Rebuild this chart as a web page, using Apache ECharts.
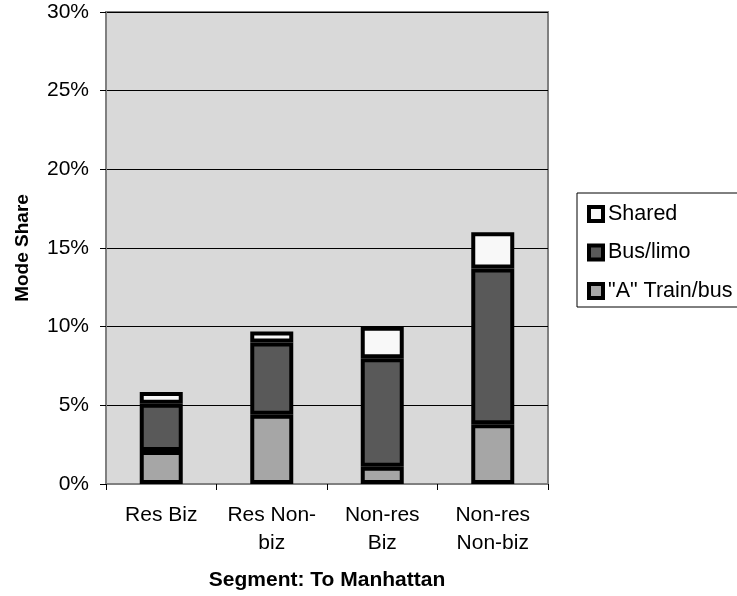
<!DOCTYPE html>
<html>
<head>
<meta charset="utf-8">
<script src="https://cdn.jsdelivr.net/npm/echarts@6/dist/echarts.min.js"></script>
<style>
  html, body { margin: 0; padding: 0; background: #fff; }
  #chart { width: 737px; height: 596px; }
</style>
</head>
<body>
<div id="chart"></div>
<script>
// Segments along the x axis
const categories = ['Res Biz', 'Res Non-\nbiz', 'Non-res\nBiz', 'Non-res\nNon-biz'];

// Mode share (%) by segment, stacked bottom to top
const trainBus = [2.1, 4.4, 1.1, 3.8];
const busLimo  = [3.0, 4.6, 6.9, 9.9];
const shared   = [0.75, 0.7, 2.0, 2.3];

const yTicks = { min: 0, max: 30, interval: 5 };

const FONT = 'Liberation Sans, Arial, sans-serif';

function barSeries(name, data, color) {
  return {
    name: name,
    type: 'bar',
    stack: 'share',
    data: data,
    barWidth: 43,
    itemStyle: { color: color, borderColor: '#000', borderWidth: 4 },
    emphasis: { disabled: true }
  };
}

const chart = echarts.init(document.getElementById('chart'), null, { renderer: 'canvas' });
chart.setOption({
  animation: false,
  backgroundColor: '#fff',
  textStyle: { fontFamily: FONT },
  grid: {
    left: 106, right: 189, top: 12, bottom: 112,
    show: true,
    backgroundColor: '#d9d9d9',
    borderColor: '#808080',
    borderWidth: 2
  },
  legend: {
    orient: 'vertical',
    left: 577,
    top: 193,
    data: ['Shared', 'Bus/limo', '"A" Train/bus'],
    icon: 'rect',
    itemWidth: 14,
    itemHeight: 14,
    itemGap: 16.5,
    padding: [10, 90, 5, 10],
    backgroundColor: '#fff',
    borderColor: '#000',
    borderWidth: 1,
    borderRadius: 0,
    itemStyle: { borderColor: '#000', borderWidth: 4 },
    textStyle: { fontFamily: FONT, fontSize: 21.5, lineHeight: 21, color: '#000' }
  },
  xAxis: {
    type: 'category',
    data: categories,
    name: 'Segment: To Manhattan',
    nameLocation: 'middle',
    nameGap: 86,
    nameTextStyle: { fontFamily: FONT, fontSize: 21, fontWeight: 'bold', color: '#000' },
    axisLine: { show: true, lineStyle: { color: '#808080', width: 2 } },
    axisTick: { show: true, length: 6, lineStyle: { color: '#000', width: 1 } },
    axisLabel: {
      fontFamily: FONT, fontSize: 21, color: '#000',
      margin: 17, lineHeight: 28, interval: 0
    },
    splitLine: { show: false }
  },
  yAxis: {
    type: 'value',
    min: yTicks.min,
    max: yTicks.max,
    interval: yTicks.interval,
    name: 'Mode Share',
    nameLocation: 'middle',
    nameGap: 74,
    nameRotate: 90,
    nameTextStyle: { fontFamily: FONT, fontSize: 19, fontWeight: 'bold', color: '#000' },
    axisLine: { show: true, lineStyle: { color: '#808080', width: 2 } },
    axisTick: { show: true, length: 6, lineStyle: { color: '#000', width: 1 } },
    axisLabel: {
      fontFamily: FONT, fontSize: 21, color: '#000', margin: 17,
      formatter: v => v + '%'
    },
    splitLine: { show: true, lineStyle: { color: '#000', width: 1 } }
  },
  series: [
    barSeries('"A" Train/bus', trainBus, '#a6a6a6'),
    barSeries('Bus/limo', busLimo, '#595959'),
    barSeries('Shared', shared, '#f8f8f8')
  ]
});
</script>
</body>
</html>
